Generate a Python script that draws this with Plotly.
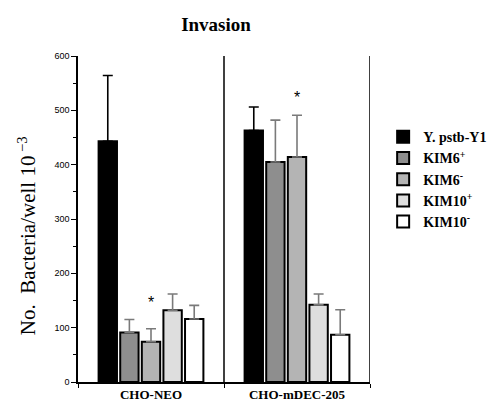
import plotly.graph_objects as go

categories = ["CHO-NEO", "CHO-mDEC-205"]
series_names = ["Y. pstb-Y1", "KIM6<sup>+</sup>", "KIM6<sup>-</sup>", "KIM10<sup>+</sup>", "KIM10<sup>-</sup>"]
y_pstb = [443, 463]
kim6_plus = [91, 405]
kim6_minus = [74, 414]
kim10_plus = [132, 142]
kim10_minus = [116, 87]
err_y_pstb = [121, 43]
err_kim6_plus = [24, 77]
err_kim6_minus = [24, 77]
err_kim10_plus = [30, 20]
err_kim10_minus = [25, 46]
star_values = [141, 518]  # level of the significance asterisks above KIM6-
y_ticks = [0, 100, 200, 300, 400, 500, 600]

values = [y_pstb, kim6_plus, kim6_minus, kim10_plus, kim10_minus]
errors = [err_y_pstb, err_kim6_plus, err_kim6_minus, err_kim10_plus, err_kim10_minus]
fills = ["#000000", "#8e8e8e", "#b4b4b4", "#dedede", "#ffffff"]
err_colors = ["#000000", "#7a7a7a", "#7a7a7a", "#7a7a7a", "#7a7a7a"]

fig = go.Figure()
for name, vals, errs, fc, ec in zip(series_names, values, errors, fills, err_colors):
    fig.add_trace(go.Bar(
        x=categories, y=vals, name="<b>" + name + "</b>",
        marker=dict(color=fc, line=dict(color="#000000", width=2)),
        error_y=dict(type="data", array=errs, arrayminus=[0] * len(errs), symmetric=False,
                     color=ec, thickness=1.6, width=5),
    ))

for cat, v in zip(categories, star_values):
    fig.add_annotation(x=cat, y=v, text="*", showarrow=False, yshift=3, yanchor="middle",
                       font=dict(family="Liberation Sans", size=16, color="#000"))

# vertical panel lines
for xpos in [0.5, 1.5]:
    fig.add_shape(type="line", xref="x", yref="y", x0=xpos, x1=xpos, y0=0, y1=600,
                  line=dict(color="#000", width=1.5))

fig.add_annotation(xref="paper", yref="paper", x=-0.175, y=0.45,
                   text="No.  Bacteria/well 10<sup> \u22123</sup>", textangle=-90,
                   showarrow=False, xanchor="center", yanchor="middle",
                   font=dict(family="Liberation Serif", size=21, color="#000"))

fig.update_layout(
    width=496, height=406,
    margin=dict(l=70, r=122, t=48, b=30),
    plot_bgcolor="white", paper_bgcolor="white",
    barmode="group", bargap=0.26, bargroupgap=0.15,
    title=dict(text="<b>Invasion</b>", x=208 / 496, xanchor="center", y=1 - 16 / 406, yanchor="middle",
               font=dict(family="Liberation Serif", size=19, color="#000")),
    showlegend=True,
    legend=dict(x=1.045, y=0.8, xanchor="left", yanchor="top",
                font=dict(family="Liberation Serif", size=14, color="#000"),
                bgcolor="rgba(0,0,0,0)", tracegroupgap=0),
    xaxis=dict(range=[-0.5, 1.5], showline=True, linecolor="#000", linewidth=1.5,
               ticks="outside", tickson="boundaries", ticklen=4, tickcolor="#000",
               tickfont=dict(family="Liberation Serif", size=13, color="#000"),
               tickprefix="<b>", ticksuffix="</b>", showgrid=False, zeroline=False),
    yaxis=dict(range=[0, 600], tickvals=y_ticks, showline=True, linecolor="#000", linewidth=1.5,
               ticks="outside", ticklen=5, tickcolor="#000", tickwidth=1,
               minor=dict(dtick=50, ticks="outside", ticklen=3, tickcolor="#000"),
               tickfont=dict(family="Liberation Sans", size=9, color="#000"),
               showgrid=False, zeroline=False),
)

fig.write_html("out.html")
